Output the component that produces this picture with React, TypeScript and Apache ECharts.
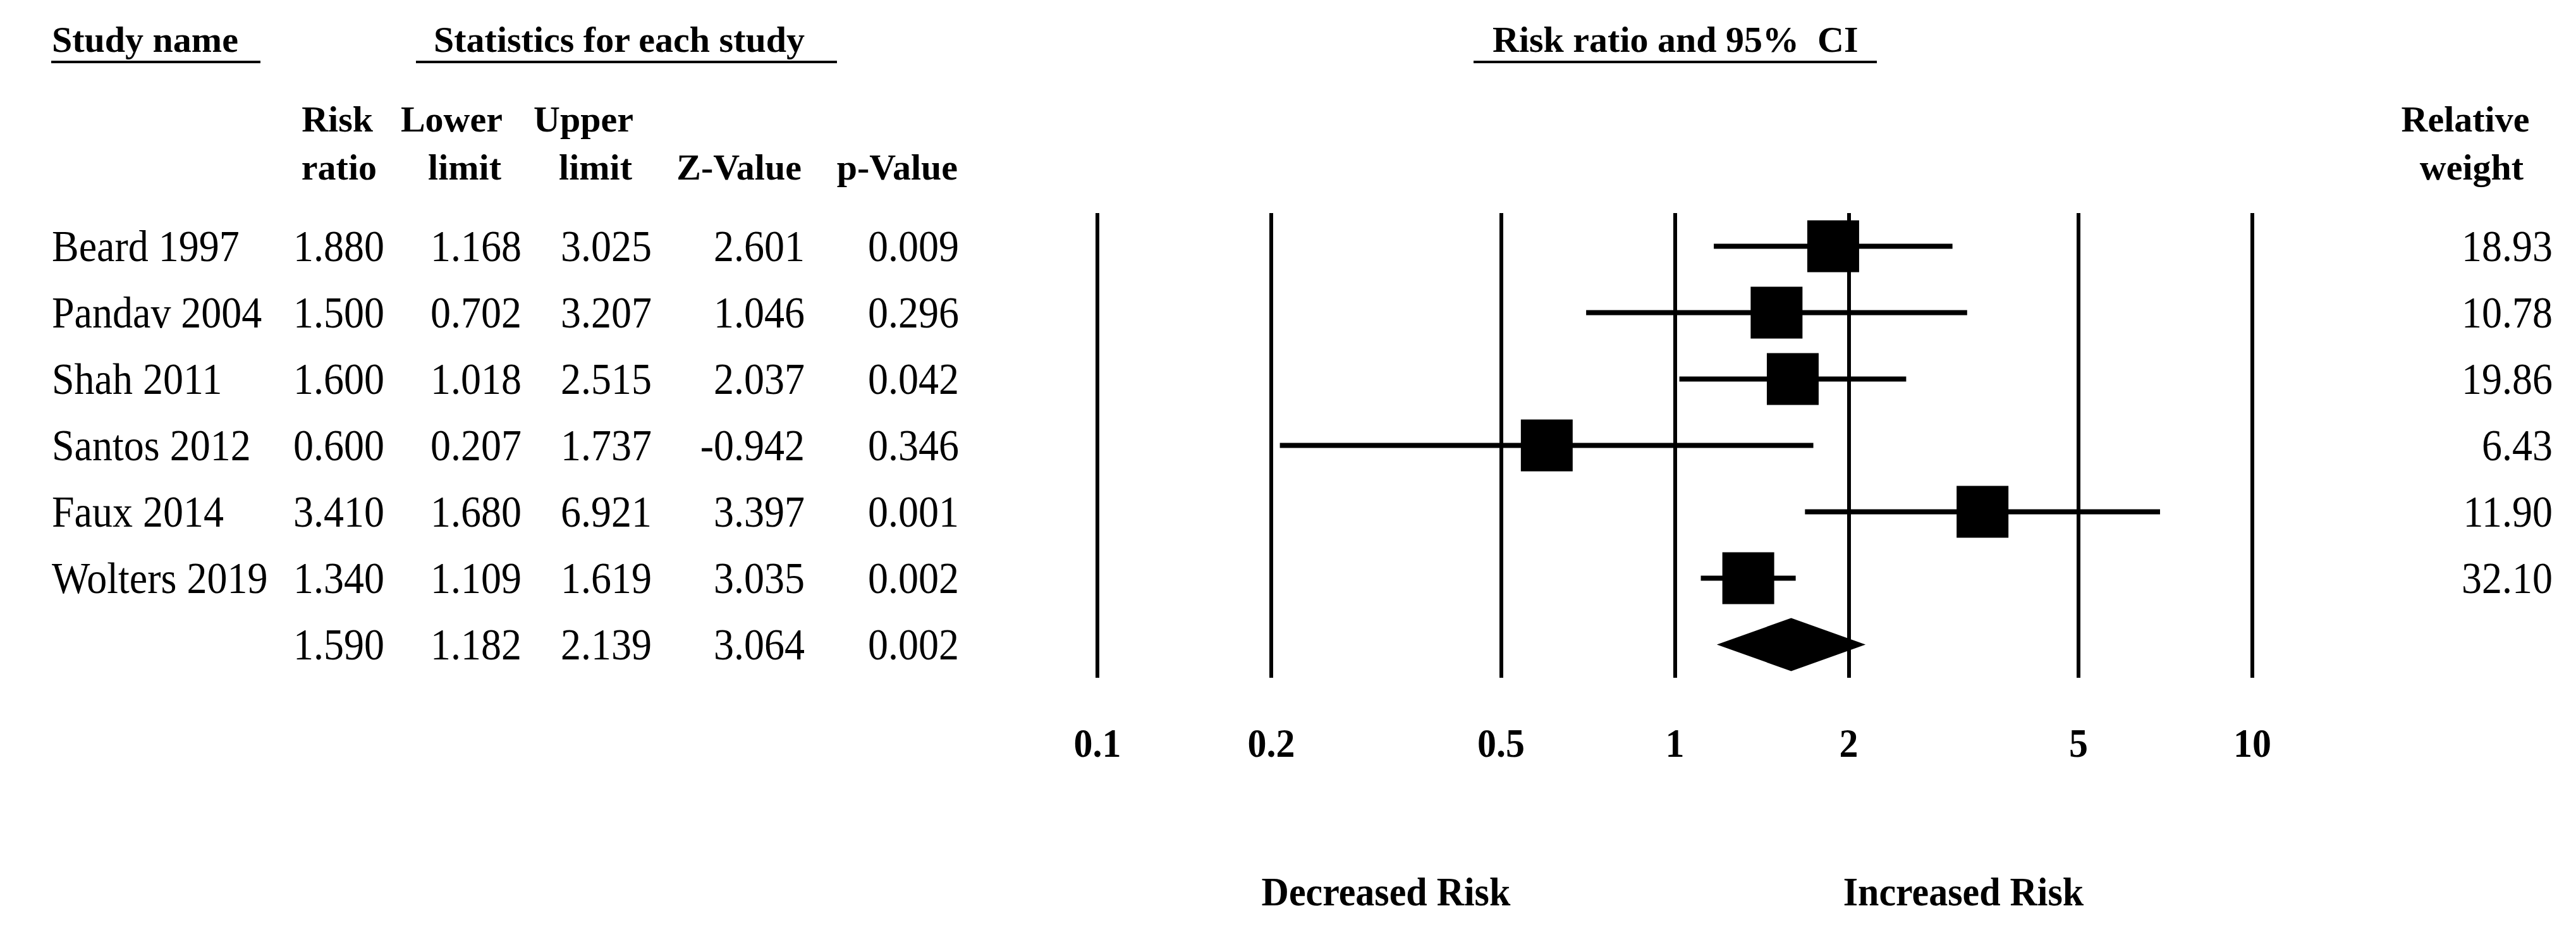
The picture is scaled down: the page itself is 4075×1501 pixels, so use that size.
import React, { useEffect, useRef } from "react";
import * as echarts from "echarts";

// ---- data ----
const studies = ["Beard 1997", "Pandav 2004", "Shah 2011", "Santos 2012", "Faux 2014", "Wolters 2019"];
const riskRatio = [1.88, 1.5, 1.6, 0.6, 3.41, 1.34];
const lowerLimit = [1.168, 0.702, 1.018, 0.207, 1.68, 1.109];
const upperLimit = [3.025, 3.207, 2.515, 1.737, 6.921, 1.619];
const zValue = [2.601, 1.046, 2.037, -0.942, 3.397, 3.035];
const pValue = [0.009, 0.296, 0.042, 0.346, 0.001, 0.002];
const relativeWeight = [18.93, 10.78, 19.86, 6.43, 11.9, 32.1];
// pooled: risk ratio, lower, upper, z, p
const pooled = [1.59, 1.182, 2.139, 3.064, 0.002];
const tickValues = [0.1, 0.2, 0.5, 1, 2, 5, 10];
const tickLabels = ["0.1", "0.2", "0.5", "1", "2", "5", "10"];
const sideLabels = ["Decreased Risk", "Increased Risk"];
const sideLabelAt = [0.316, 3.16];

const SERIF = "'Liberation Serif', 'Times New Roman', serif";
const BODY = 64;
const HEAD = 58;

function txt(x: number, y: number, text: string, align: string, size: number, bold: boolean, sy = 1) {
  return {
    type: "text",
    x,
    y,
    scaleY: sy,
    style: {
      text,
      fill: "#000",
      fontSize: size,
      fontFamily: SERIF,
      fontWeight: bold ? "bold" : "normal",
      align,
      textAlign: align,
      verticalAlign: "middle",
      textVerticalAlign: "middle",
    },
  };
}

export default function App() {
  const ref = useRef<HTMLDivElement>(null);
  useEffect(() => {
    document.body.style.margin = "0";
    document.body.style.overflow = "hidden";
    const chart = echarts.init(ref.current!, null, { renderer: "svg" });
    const nRows = studies.length + 1;

    const forestData = studies.map((_, i) => [lowerLimit[i], riskRatio[i], upperLimit[i], i + 0.5]);
    forestData.push([pooled[1], pooled[0], pooled[2], studies.length + 0.5]);

    const tableData = Array.from({ length: nRows }, (_, i) => [1, i + 0.5]);

    const fmt3 = (v: number) => v.toFixed(3);
    const SY = 1.1;

    const option: any = {
      animation: false,
      backgroundColor: "#ffffff",
      grid: { left: 1736, right: 512, top: 337, bottom: 429 },
      xAxis: {
        type: "log",
        logBase: 10,
        min: 0.1,
        max: 10,
        axisLine: { show: false },
        axisTick: { show: false },
        axisLabel: { show: false },
        splitLine: { show: false },
      },
      yAxis: { type: "value", min: 0, max: nRows, inverse: true, show: false },
      series: [
        {
          type: "custom",
          name: "forest",
          clip: false,
          silent: true,
          data: forestData,
          encode: { x: [0, 1, 2], y: 3 },
          renderItem: (params: any, api: any) => {
            const yv = api.value(3);
            const lo = api.coord([api.value(0), yv]);
            const mid = api.coord([api.value(1), yv]);
            const hi = api.coord([api.value(2), yv]);
            const y = mid[1];
            if (params.dataIndex === studies.length) {
              return {
                type: "polygon",
                shape: {
                  points: [
                    [lo[0], y],
                    [mid[0], y - 42],
                    [hi[0], y],
                    [mid[0], y + 42],
                  ],
                },
                style: { fill: "#000" },
              };
            }
            return {
              type: "group",
              children: [
                {
                  type: "line",
                  shape: { x1: lo[0], y1: y, x2: hi[0], y2: y },
                  style: { stroke: "#000", lineWidth: 8 },
                },
                {
                  type: "rect",
                  shape: { x: mid[0] - 41, y: y - 41, width: 82, height: 82 },
                  style: { fill: "#000" },
                },
              ],
            };
          },
          markLine: {
            silent: true,
            symbol: ["none", "none"],
            label: { show: false },
            emphasis: { disabled: true },
            lineStyle: { color: "#000", width: 6, type: "solid" },
            data: tickValues.map((v) => ({ xAxis: v })),
          },
          z: 3,
        },
        {
          type: "custom",
          name: "ticks",
          clip: false,
          silent: true,
          data: tickValues.map((v) => [v, nRows]),
          renderItem: (params: any, api: any) => {
            const p = api.coord([api.value(0), api.value(1)]);
            return txt(p[0], p[1] + 103, tickLabels[params.dataIndex], "center", 60, true, 1.05);
          },
        },
        {
          type: "custom",
          name: "sides",
          clip: false,
          silent: true,
          data: sideLabelAt.map((v) => [v, nRows]),
          renderItem: (params: any, api: any) => {
            const p = api.coord([api.value(0), api.value(1)]);
            return txt(p[0], p[1] + 338, sideLabels[params.dataIndex], "center", 60, true, 1.05);
          },
        },
        {
          type: "custom",
          name: "table",
          clip: false,
          silent: true,
          data: tableData,
          renderItem: (params: any, api: any) => {
            const i = params.dataIndex;
            const y = api.coord([api.value(0), api.value(1)])[1];
            const isPooled = i === studies.length;
            const rr = isPooled ? pooled[0] : riskRatio[i];
            const lo = isPooled ? pooled[1] : lowerLimit[i];
            const hi = isPooled ? pooled[2] : upperLimit[i];
            const z = isPooled ? pooled[3] : zValue[i];
            const p = isPooled ? pooled[4] : pValue[i];
            const children: any[] = [
              txt(608, y, fmt3(rr), "right", BODY, false, SY),
              txt(825, y, fmt3(lo), "right", BODY, false, SY),
              txt(1031, y, fmt3(hi), "right", BODY, false, SY),
              txt(1273, y, fmt3(z), "right", BODY, false, SY),
              txt(1517, y, fmt3(p), "right", BODY, false, SY),
            ];
            if (!isPooled) {
              children.push(txt(82, y, studies[i], "left", BODY, false, SY));
              children.push(txt(4038, y, relativeWeight[i].toFixed(2), "right", BODY, false, SY));
            }
            return { type: "group", children };
          },
        },
      ],
      graphic: [
        txt(82, 62, "Study name", "left", HEAD, true),
        txt(686, 62, "Statistics for each study", "left", HEAD, true),
        txt(2361, 62, "Risk ratio and 95%  CI", "left", HEAD, true),
        { type: "line", shape: { x1: 81, y1: 98, x2: 412, y2: 98 }, style: { stroke: "#000", lineWidth: 4 } },
        { type: "line", shape: { x1: 658, y1: 98, x2: 1324, y2: 98 }, style: { stroke: "#000", lineWidth: 4 } },
        { type: "line", shape: { x1: 2331, y1: 98, x2: 2969, y2: 98 }, style: { stroke: "#000", lineWidth: 4 } },
        txt(590, 188, "Risk", "right", HEAD, true),
        txt(596, 264, "ratio", "right", HEAD, true),
        txt(795, 188, "Lower", "right", HEAD, true),
        txt(793, 264, "limit", "right", HEAD, true),
        txt(1002, 188, "Upper", "right", HEAD, true),
        txt(1000, 264, "limit", "right", HEAD, true),
        txt(1268, 264, "Z-Value", "right", HEAD, true),
        txt(1515, 264, "p-Value", "right", HEAD, true),
        txt(3900, 188, "Relative", "center", HEAD, true),
        txt(3910, 264, "weight", "center", HEAD, true),
      ],
    };
    chart.setOption(option);
    return () => chart.dispose();
  }, []);
  return <div ref={ref} style={{ width: 4075, height: 1501 }} />;
}
